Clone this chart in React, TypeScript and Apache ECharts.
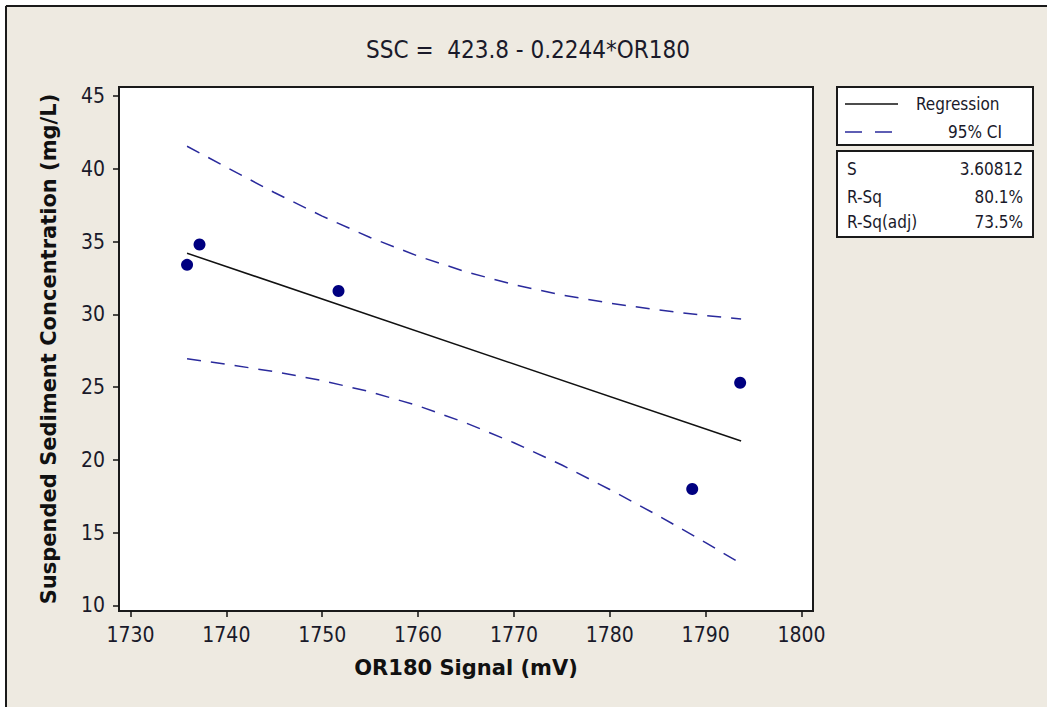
import React, { useEffect, useRef } from "react";
import * as echarts from "echarts";

// Observed data (OR180 signal vs SSC)
const pointX = [1735.9, 1737.2, 1751.7, 1788.6, 1793.6];
const pointY = [33.4, 34.8, 31.6, 18.0, 25.3];

// Fitted regression line endpoints
const fitX = [1735.9, 1793.7];
const fitY = [34.2, 21.3];

// 95% confidence band
const ciX = [1735.9, 1740, 1745, 1750, 1755, 1760, 1765, 1770, 1775, 1780, 1785, 1790, 1793.7];
const ciUpper = [41.55, 40.11, 38.37, 36.75, 35.28, 34.0, 32.92, 32.04, 31.33, 30.77, 30.31, 29.92, 29.68];
const ciLower = [26.95, 26.57, 26.07, 25.45, 24.68, 23.72, 22.54, 21.18, 19.65, 17.97, 16.19, 14.32, 12.87];

// Axis ticks
const xTicks = [1730, 1740, 1750, 1760, 1770, 1780, 1790, 1800];
const yTicks = [10, 15, 20, 25, 30, 35, 40, 45];

// Texts
const titleText = "SSC =  423.8 - 0.2244*OR180";
const xName = "OR180 Signal (mV)";
const yName = "Suspended Sediment Concentration (mg/L)";
const legendNames = ["Regression", "95% CI"];
const statNames = ["S", "R-Sq", "R-Sq(adj)"];
const statValues = ["3.60812", "80.1%", "73.5%"];

const FONT = '"DejaVu Sans Condensed", "DejaVu Sans", sans-serif';
const BOLD_FONT = '"DejaVu Sans", sans-serif';
const TXT = "#1a1a2a";
const BG = "#EEEAE1";
const CI_COLOR = "#2a2a9c";

const zip = (a: number[], b: number[]) => a.map((v, i) => [v, b[i]]);

export default function App() {
  const ref = useRef<HTMLDivElement>(null);
  useEffect(() => {
    const chart = echarts.init(ref.current!, null, { renderer: "svg" });
    const statY = [169, 197, 222];
    chart.setOption({
      animation: false,
      backgroundColor: BG,
      grid: {
        left: 119,
        right: 234,
        top: 87,
        bottom: 96,
        show: true,
        backgroundColor: "#ffffff",
        borderColor: "#1a1a1a",
        borderWidth: 2,
        containLabel: false,
      },
      xAxis: {
        type: "value",
        min: 1728.8,
        max: 1801.2,
        name: xName,
        nameLocation: "middle",
        nameGap: 46,
        nameTextStyle: { fontFamily: BOLD_FONT, fontSize: 21, fontWeight: "bold", color: "#111" },
        axisLine: { show: false },
        splitLine: { show: false },
        axisTick: { show: true, customValues: xTicks, length: 6, lineStyle: { color: "#111", width: 1.5 } },
        axisLabel: {
          customValues: xTicks,
          fontFamily: FONT,
          fontSize: 21,
          color: TXT,
          margin: 13,
          formatter: (v: number) => String(v),
        },
      },
      yAxis: {
        type: "value",
        min: 9.62,
        max: 45.62,
        name: yName,
        nameLocation: "middle",
        nameGap: 60,
        nameTextStyle: { fontFamily: BOLD_FONT, fontSize: 21, fontWeight: "bold", color: "#111" },
        axisLine: { show: false },
        splitLine: { show: false },
        axisTick: { show: true, customValues: yTicks, length: 6, lineStyle: { color: "#111", width: 1.5 } },
        axisLabel: {
          customValues: yTicks,
          fontFamily: FONT,
          fontSize: 21,
          color: TXT,
          margin: 14,
          formatter: (v: number) => String(v),
        },
      },
      series: [
        {
          type: "line",
          data: zip(ciX, ciUpper),
          showSymbol: false,
          lineStyle: { color: CI_COLOR, width: 1.5, type: [14, 10] },
          z: 2,
        },
        {
          type: "line",
          data: zip(ciX, ciLower),
          showSymbol: false,
          lineStyle: { color: CI_COLOR, width: 1.5, type: [14, 10] },
          z: 2,
        },
        {
          type: "line",
          data: zip(fitX, fitY),
          showSymbol: false,
          lineStyle: { color: "#111", width: 1.5 },
          z: 3,
        },
        {
          type: "scatter",
          data: zip(pointX, pointY),
          symbol: "circle",
          symbolSize: 12,
          itemStyle: { color: "#000080", opacity: 1 },
          z: 4,
        },
      ],
      graphic: [
        { type: "rect", shape: { x: 0, y: 0, width: 1047, height: 5 }, style: { fill: "#ffffff" }, silent: true },
        { type: "rect", shape: { x: 0, y: 0, width: 5, height: 707 }, style: { fill: "#ffffff" }, silent: true },
        { type: "line", shape: { x1: 6, y1: 6, x2: 1047, y2: 6 }, style: { stroke: "#1a1a1a", lineWidth: 2 }, silent: true },
        { type: "line", shape: { x1: 6, y1: 6, x2: 6, y2: 707 }, style: { stroke: "#1a1a1a", lineWidth: 2 }, silent: true },
        {
          type: "text",
          x: 528,
          y: 50,
          style: { text: titleText, fontFamily: FONT, fontSize: 24, fill: TXT, align: "center", verticalAlign: "middle" },
        },
        { type: "rect", shape: { x: 837, y: 87, width: 196, height: 58 }, style: { fill: "#ffffff", stroke: "#1a1a1a", lineWidth: 2 } },
        { type: "line", shape: { x1: 845, y1: 104, x2: 898, y2: 104 }, style: { stroke: "#111", lineWidth: 1.5 } },
        {
          type: "text",
          x: 916,
          y: 104,
          style: { text: legendNames[0], fontFamily: FONT, fontSize: 17, fill: TXT, align: "left", verticalAlign: "middle" },
        },
        { type: "line", shape: { x1: 845, y1: 132, x2: 893, y2: 132 }, style: { stroke: CI_COLOR, lineWidth: 1.5, lineDash: [17, 13] } },
        {
          type: "text",
          x: 1002,
          y: 132,
          style: { text: legendNames[1], fontFamily: FONT, fontSize: 17, fill: TXT, align: "right", verticalAlign: "middle" },
        },
        { type: "rect", shape: { x: 837, y: 151, width: 196, height: 86 }, style: { fill: "#ffffff", stroke: "#1a1a1a", lineWidth: 2 } },
        ...statNames.map((n, i) => ({
          type: "text",
          x: 847,
          y: statY[i],
          style: { text: n, fontFamily: FONT, fontSize: 17, fill: TXT, align: "left", verticalAlign: "middle" },
        })),
        ...statValues.map((v, i) => ({
          type: "text",
          x: 1023,
          y: statY[i],
          style: { text: v, fontFamily: FONT, fontSize: 17, fill: TXT, align: "right", verticalAlign: "middle" },
        })),
      ],
    });
    return () => chart.dispose();
  }, []);
  return <div ref={ref} style={{ position: "absolute", left: 0, top: 0, width: 1047, height: 707 }} />;
}
